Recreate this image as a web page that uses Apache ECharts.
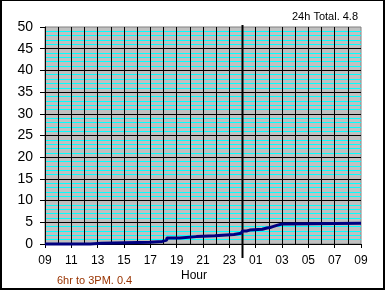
<!DOCTYPE html>
<html>
<head>
<meta charset="utf-8">
<script src="https://cdn.jsdelivr.net/npm/echarts@6/dist/echarts.min.js"></script>
<style>
html,body{margin:0;padding:0;background:#fff;}
#wrap{position:relative;width:385px;height:290px;}
#chart{position:absolute;left:0;top:0;width:385px;height:290px;}
#frame{position:absolute;left:0;top:0;width:385px;height:290px;box-sizing:border-box;border-style:solid;border-color:#000;border-width:1px 2px 2px 2px;pointer-events:none;}
</style>
</head>
<body>
<div id="wrap"><div id="chart"></div><div id="frame"></div></div>
<script>
// Hours since 09:00 at which the cumulative total changes
var hourOffsets = [0, 3.45, 4.3, 7.95, 8.9, 9.25, 10.25, 11.5, 12.9, 14.35, 14.9, 15.0, 15.3, 15.55, 16.5, 16.85, 17.1, 17.3, 17.6, 18.0, 24];
// Cumulative rainfall values
var rainValues = [0, 0.2, 0.4, 0.6, 0.9, 1.4, 1.7, 1.9, 2.2, 2.5, 2.7, 3.0, 3.2, 3.4, 3.7, 3.8, 4.0, 4.3, 4.6, 4.8, 4.8];
var startHour = 9;
var midnightOffset = [15];
var yMax = 50;
var totalText = '24h Total. 4.8';
var partText = '6hr to 3PM. 0.4';
var xTitle = 'Hour';

var chart = echarts.init(document.getElementById('chart'), null, {renderer: 'canvas'});
var lineData = hourOffsets.map(function (h, i) { return [h, rainValues[i]]; });
function pad(n){ return (n < 10 ? '0' : '') + n; }

chart.setOption({
  animation: false,
  backgroundColor: '#ffffff',
  grid: {left: 45, top: 27, width: 316, height: 217, show: true, backgroundColor: '#c0c0c0', borderColor: '#808080', borderWidth: 1},
  xAxis: {
    type: 'value', min: 0, max: 24, interval: 2,
    axisLine: {show: true, lineStyle: {color: '#000', width: 1}},
    axisTick: {show: true, length: 4, lineStyle: {color: '#000'}},
    minorTick: {show: false, splitNumber: 2},
    splitLine: {show: true, showMaxLine: false, lineStyle: {color: '#000', width: 1}},
    minorSplitLine: {show: true, lineStyle: {color: '#000', width: 1}},
    axisLabel: {
      color: '#000', fontFamily: 'Liberation Sans, Arial, sans-serif', fontSize: 12, margin: 11,
      showMinLabel: true, showMaxLabel: true,
      formatter: function (v) { return pad((startHour + v) % 24); }
    }
  },
  yAxis: {
    type: 'value', min: 0, max: yMax, interval: 5,
    axisLine: {show: true, lineStyle: {color: '#000', width: 1}},
    axisTick: {show: true, length: 5, lineStyle: {color: '#000'}},
    minorTick: {show: false, splitNumber: 5},
    splitLine: {show: true, showMaxLine: false, lineStyle: {color: '#000', width: 1}},
    minorSplitLine: {show: true, lineStyle: {color: '#00ffff', width: 1}},
    axisLabel: {color: '#000', fontFamily: 'Liberation Sans, Arial, sans-serif', fontSize: 14, margin: 12}
  },
  series: [
    {
      type: 'custom', data: midnightOffset.map(function(h){return [h];}), clip: false, z: 3,
      renderItem: function (params, api) {
        var top = api.coord([api.value(0), yMax]);
        var bot = api.coord([api.value(0), 0]);
        return {type: 'line', shape: {x1: top[0], y1: top[1] - 2, x2: bot[0], y2: bot[1] + 14},
          style: {stroke: '#000', lineWidth: 2}};
      }
    },
    {
      type: 'line', data: lineData, step: 'end', showSymbol: false, clip: false, z: 4,
      lineStyle: {color: '#000080', width: 3}
    }
  ],
  graphic: [
    {type: 'text', left: 292, top: 11, style: {text: totalText, fill: '#000', font: '11px "Liberation Sans", Arial, sans-serif'}},
    {type: 'text', left: 181, top: 270, style: {text: xTitle, fill: '#000', font: '12px "Liberation Sans", Arial, sans-serif'}},
    {type: 'text', left: 57, top: 275, style: {text: partText, fill: '#993300', font: '11px "Liberation Sans", Arial, sans-serif'}}
  ]
});
</script>
</body>
</html>
